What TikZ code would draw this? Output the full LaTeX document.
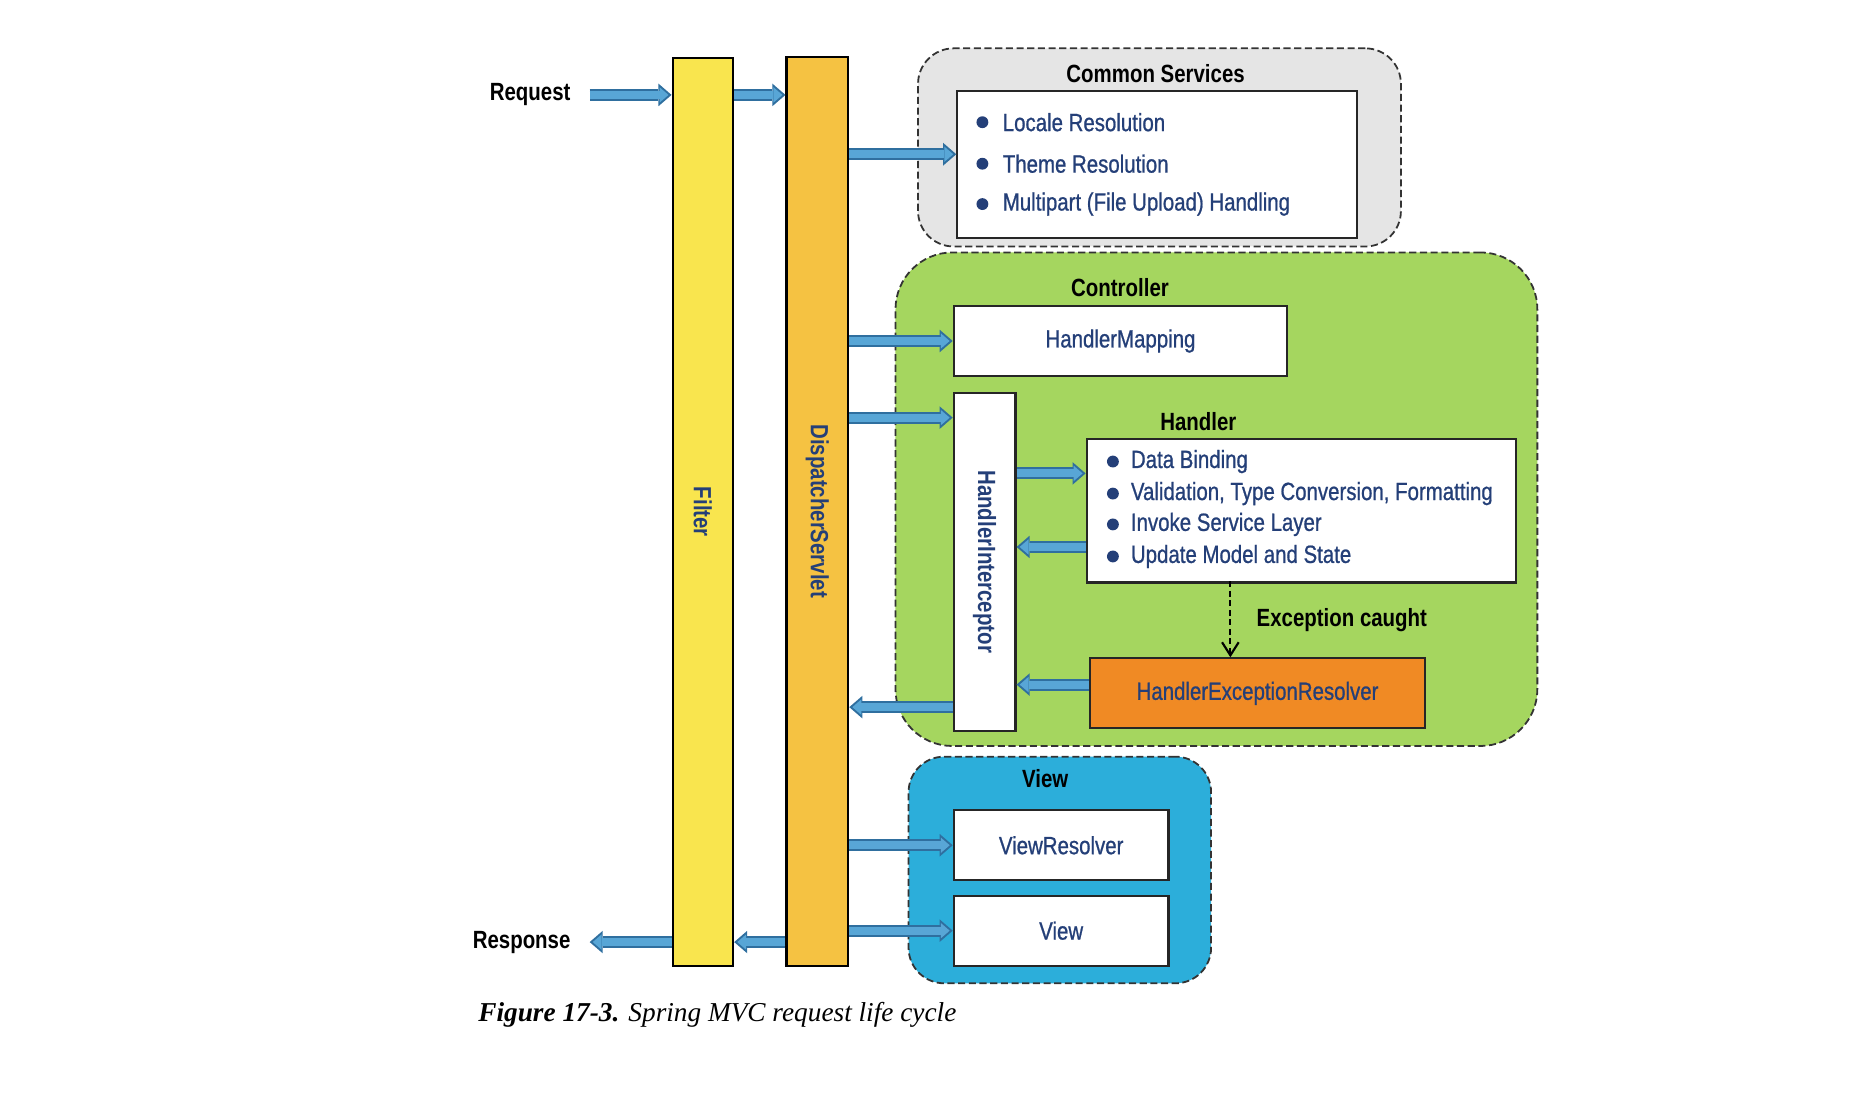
\documentclass[tikz,border=0pt]{standalone}
\usepackage{fontspec}
\setmainfont[FakeStretch=0.82,UprightFeatures={FakeBold=0.8}]{Liberation Sans}
\newfontfamily\captionfont{Liberation Serif}
\usepackage{xcolor}
\usetikzlibrary{arrows.meta}

\definecolor{filterYellow}{RGB}{249,229,78}
\definecolor{servletOrange}{RGB}{245,194,66}
\definecolor{serviceGray}{RGB}{229,229,229}
\definecolor{ctrlGreen}{RGB}{165,214,95}
\definecolor{viewBlue}{RGB}{44,174,218}
\definecolor{resolverOrange}{RGB}{240,138,36}
\definecolor{labelBlue}{RGB}{36,63,120}
\definecolor{flowEdge}{RGB}{47,111,159}
\definecolor{flowFill}{RGB}{88,166,214}

\begin{document}
\begin{tikzpicture}[x=1pt,y=1pt,yscale=-1,
  bar/.style={draw=black,line width=1.8pt,anchor=north west,inner sep=0pt},
  group/.style={draw=black!80,line width=1.5pt,dash pattern=on 6pt off 3pt,anchor=north west,inner sep=0pt},
  box/.style={draw=black!85,fill=white,line width=1.8pt,anchor=north west,inner sep=0pt,text=labelBlue,font=\fontsize{21}{25}\selectfont},
  heading/.style={font=\fontsize{21}{25}\selectfont\bfseries,text=black,inner sep=0pt},
  item/.style={anchor=west,font=\fontsize{21}{25}\selectfont,text=labelBlue,inner sep=0pt},
  flow/.style={draw=flowEdge,line width=10pt,-{Triangle[length=11pt,width=19pt,line width=0pt]},
    postaction={draw=flowFill,line width=6.6pt,shorten >=2.6pt,-{Triangle[length=7.5pt,width=13pt,line width=0pt]}}}
]
\useasboundingbox (0,0) rectangle (1566,924);

%Containers
\node[group,fill=serviceGray,rounded corners=30pt,minimum width=407pt,minimum height=167pt] (commonSrv) at (773,40) {};
\node[group,fill=ctrlGreen,rounded corners=48pt,minimum width=541pt,minimum height=416pt] (ctrl) at (754,212) {};
\node[group,fill=viewBlue,rounded corners=30pt,minimum width=255pt,minimum height=191pt] (viewGrp) at (765,637) {};

%Bars
\node[bar,fill=filterYellow,minimum width=51pt,minimum height=765pt] (filter) at (566,48) {};
\node[bar,fill=servletOrange,minimum width=52pt,minimum height=766pt] (dispatcher) at (662,47) {};
\node[heading,text=labelBlue,rotate=-90] (filterText) at (filter.center) {Filter};
\node[heading,text=labelBlue,rotate=-90] (dispatcherText) at (dispatcher.center) {DispatcherServlet};

%Boxes
\node[box,minimum width=337pt,minimum height=124pt] (csList) at (806,76) {};
\node[box,minimum width=281pt,minimum height=59pt] (hMap) at (803,257) {HandlerMapping};
\node[box,minimum width=52pt,minimum height=285pt] (hIntercept) at (803,330) {};
\node[heading,text=labelBlue,rotate=-90] (hInterceptText) at (hIntercept.center) {HandlerInterceptor};
\node[box,minimum width=362pt,minimum height=121pt] (handler) at (915,369) {};
\node[box,fill=resolverOrange,minimum width=282pt,minimum height=59pt] (hExcResolver) at (918,554) {HandlerExceptionResolver};
\node[box,minimum width=181pt,minimum height=59pt] (viewRes) at (803,682) {ViewResolver};
\node[box,minimum width=181pt,minimum height=59pt] (viewNode) at (803,754) {View};

%Headings
\node[heading,anchor=east] (request) at (481,80) {Request};
\node[heading,anchor=east] (response) at (481,794) {Response};
\node[heading] (csHead) at (974,62) {Common Services};
\node[heading] (ctrlHead) at (944,242) {Controller};
\node[heading] (handlerHead) at (1010,355) {Handler};
\node[heading] (viewHead) at (881,656) {View};
\node[heading,anchor=west] (excLabel) at (1059,523) {Exception caught};

%Bullet lists
\fill[labelBlue] (828,103) circle (5);
\node[item] (csLocale) at (845,103) {Locale Resolution};
\fill[labelBlue] (828,138) circle (5);
\node[item] (csTheme) at (845,138) {Theme Resolution};
\fill[labelBlue] (828,172) circle (5);
\node[item] (csMultipart) at (845,172) {Multipart (File Upload) Handling};
\fill[labelBlue] (938,389) circle (5);
\node[item] (hdBinding) at (953,389) {Data Binding};
\fill[labelBlue] (938,416) circle (5);
\node[item] (hdValidation) at (953,416) {Validation, Type Conversion, Formatting};
\fill[labelBlue] (938,442) circle (5);
\node[item] (hdService) at (953,442) {Invoke Service Layer};
\fill[labelBlue] (938,469) circle (5);
\node[item] (hdModel) at (953,469) {Update Model and State};

%Arrow ends
\coordinate (reqStart) at (497,80);
\coordinate (respEnd) at (497,794);
\coordinate (csIn) at (806,130);
\coordinate (hiIn) at (803,352);
\coordinate (hdIn) at (915,399);
\coordinate (hdOut) at (915,461);
\coordinate (herOut) at (918,577);
\coordinate (hiOut) at (803,596);
\coordinate (excTop) at (1037,490);

%Flow arrows
\draw[flow] (reqStart) -- (filter.west |- reqStart);
\draw[flow] (filter.east |- reqStart) -- (dispatcher.west |- reqStart);
\draw[flow] (dispatcher.east |- csIn) -- (csIn);
\draw[flow] (dispatcher.east |- hMap.west) -- (hMap.west);
\draw[flow] (dispatcher.east |- hiIn) -- (hiIn);
\draw[flow] (hIntercept.east |- hdIn) -- (hdIn);
\draw[flow] (hdOut) -- (hIntercept.east |- hdOut);
\draw[flow] (herOut) -- (hIntercept.east |- herOut);
\draw[flow] (hiOut) -- (dispatcher.east |- hiOut);
\draw[flow] (dispatcher.east |- viewRes.west) -- (viewRes.west);
\draw[flow] (dispatcher.east |- viewNode.west) -- (viewNode.west);
\draw[flow] (dispatcher.west |- respEnd) -- (filter.east |- respEnd);
\draw[flow] (filter.west |- respEnd) -- (respEnd);

%Exception
\draw[line width=1.8pt,dash pattern=on 5pt off 3pt,-{Straight Barb[length=11pt,width=14pt,line width=1.8pt]}] (excTop) -- (excTop |- hExcResolver.north);

% Caption
\node[anchor=west,inner sep=0pt,font=\captionfont\fontsize{23}{28}\selectfont\itshape] (caption) at (403,855) {\textbf{Figure 17-3.} Spring MVC request life cycle};
\end{tikzpicture}
\end{document}
